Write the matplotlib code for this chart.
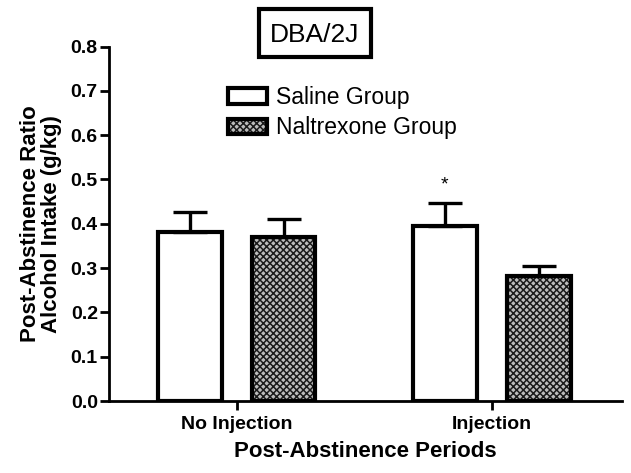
import matplotlib
matplotlib.use("Agg")
import matplotlib.pyplot as plt
from matplotlib.legend_handler import HandlerTuple
from matplotlib.patches import Rectangle
import numpy as np

plt.rcParams['font.family'] = ['Liberation Sans', 'DejaVu Sans']
plt.rcParams['hatch.linewidth'] = 1.1

periods = ["No Injection", "Injection"]
saline_mean = [0.382, 0.395]
saline_sem = [0.044, 0.053]
naltrexone_mean = [0.371, 0.282]
naltrexone_sem = [0.040, 0.023]
groups = ["Saline Group", "Naltrexone Group"]

fig = plt.figure(figsize=(6.31, 4.73), dpi=100)
ax = fig.add_axes([0.1727, 0.1522, 0.813, 0.7493])

x = np.arange(len(periods))
w = 0.25
off = 0.184
err_kw = dict(ecolor='black', elinewidth=2.4, capsize=12.5, capthick=2.4)
up = np.zeros(len(periods))

sal = ax.bar(x - off, saline_mean, w, color='white', edgecolor='black', linewidth=3,
             yerr=[up, saline_sem], error_kw=err_kw, zorder=3)
# hatched fill first, black outline on top
nal_fill = ax.bar(x + off, naltrexone_mean, w, color='#bcbcbc', edgecolor='#1a1a1a',
                  linewidth=0, hatch='xxxxx', zorder=2)
nal = ax.bar(x + off, naltrexone_mean, w, fill=False, edgecolor='black', linewidth=3,
             yerr=[up, naltrexone_sem], error_kw=err_kw, zorder=3)

# significance mark over saline / injection
ax.text(x[1] - off, saline_mean[1] + saline_sem[1] + 0.04, '*', ha='center',
        va='center', fontsize=14)

ax.set_xlim(-0.5, 1.51)
ax.set_ylim(0, 0.8)
yt = np.arange(0, 0.81, 0.1)
ax.set_yticks(yt)
ax.set_yticklabels([f"{v:.1f}" for v in yt], fontweight='bold', fontsize=14)
ax.set_xticks(x)
ax.set_xticklabels(periods, fontweight='bold', fontsize=14)
ax.tick_params(width=2, length=6.5, direction='out', pad=1.5)
ax.tick_params(axis='x', pad=4)

for s in ['top', 'right']:
    ax.spines[s].set_visible(False)
for s in ['left', 'bottom']:
    ax.spines[s].set_linewidth(2)

ax.set_ylabel("Post-Abstinence Ratio\nAlcohol Intake (g/kg)", fontweight='bold',
              fontsize=16, linespacing=1.05, labelpad=6)
ax.set_xlabel("Post-Abstinence Periods", fontweight='bold', fontsize=16, labelpad=6)

# title box
fig.patches.append(Rectangle((259 / 631, 1 - 57 / 473), 112 / 631, 48 / 473,
                             transform=fig.transFigure, fill=False, edgecolor='black',
                             linewidth=3))
fig.text(315 / 631, 1 - 35 / 473, "DBA/2J", ha='center', va='center', fontsize=19)

fig.legend([sal, (nal_fill, nal)], groups, loc='upper left',
           bbox_to_anchor=(228 / 631, 1 - 86 / 473), frameon=False, fontsize=16.5,
           handlelength=1.7, handleheight=0.65, handletextpad=0.4, labelspacing=0.32,
           borderpad=0, borderaxespad=0,
           handler_map={tuple: HandlerTuple(ndivide=1)})

fig.savefig("out.png", dpi=100)
